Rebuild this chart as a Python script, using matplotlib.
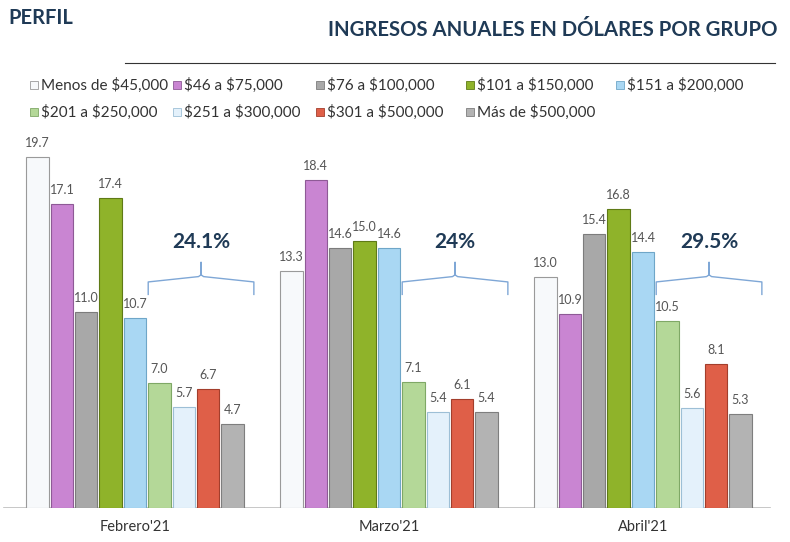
import matplotlib.pyplot as plt
from matplotlib.patches import Rectangle
import numpy as np

plt.rcParams['font.family'] = ['Lato', 'DejaVu Sans']

# data
months = ["Febrero'21", "Marzo'21", "Abril'21"]
groups = ['Menos de $45,000', '$46 a $75,000', '$76 a $100,000',
          '$101 a $150,000', '$151 a $200,000', '$201 a $250,000',
          '$251 a $300,000', '$301 a $500,000', 'Más de $500,000']
values = [
    [19.7, 13.3, 13.0],
    [17.1, 18.4, 10.9],
    [11.0, 14.6, 15.4],
    [17.4, 15.0, 16.8],
    [10.7, 14.6, 14.4],
    [7.0, 7.1, 10.5],
    [5.7, 5.4, 5.6],
    [6.7, 6.1, 8.1],
    [4.7, 5.4, 5.3],
]
upper_share = ['24.1%', '24%', '29.5%']

colors = ['#f7f9fb', '#c985d2', '#a8a8a8', '#8fb32a', '#a9d7f3',
          '#b4d898', '#e4f1fb', '#df5f48', '#b3b3b3']
edges = ['#9a9a9a', '#8e5a96', '#7c7c7c', '#5f7a16', '#6fa6c8',
         '#7fa866', '#9dbfd6', '#a33e2c', '#7e7e7e']

navy = '#1f3a56'

fig = plt.figure(figsize=(7.9, 5.42), dpi=100)
ax = fig.add_axes([0, 1 - 508 / 542, 1, (508 - 130) / 542])

step = 0.096
width = 0.088
x = np.arange(len(months))

for i, name in enumerate(groups):
    pos = x + (i - 4) * step
    bars = ax.bar(pos, values[i], width, color=colors[i], edgecolor=edges[i],
                  linewidth=0.8, zorder=3)
    for b, v in zip(bars, values[i]):
        ax.text(b.get_x() + b.get_width() / 2, v + 0.45, f'{v:.1f}',
                ha='center', va='bottom', fontsize=9, color='#555555', zorder=4)

# braces over the top four groups
for k, lab in enumerate(upper_share):
    left = x[k] + 1 * step - width / 2
    right = x[k] + 4 * step + width / 2 + 0.04
    mid = (left + right) / 2
    y0, y1, y2 = 12.0, 13.0, 13.8
    ax.plot([left, left, mid - 0.01, mid, mid, mid, mid + 0.01, right, right],
            [y0, y1 - 0.3, y1, y1 + 0.1, y2, y1 + 0.1, y1, y1 - 0.3, y0],
            color='#7fa7d6', linewidth=1, zorder=5)
    ax.text(mid, y2 + 0.6, lab, ha='center', va='bottom', fontsize=15,
            fontweight='bold', color=navy, zorder=5)

ax.axhline(0, xmin=0.005, xmax=0.975, color='#bdbdbd', linewidth=1.2, zorder=2)
ax.set_xlim(-135 / 254, (790 - 135) / 254)
ax.set_ylim(0, (508 - 130) / 17.8)
ax.axis('off')

for k, m in enumerate(months):
    ax.text(x[k], -1.05, m, ha='center', va='center', fontsize=10.5, color='#333333')

# header
fig.text(8 / 790, 1 - 18 / 542, 'PERFIL', fontsize=14.5, fontweight='bold',
         color=navy, va='center', ha='left')
fig.text(778 / 790, 1 - 30 / 542, 'INGRESOS ANUALES EN DÓLARES POR GRUPO',
         fontsize=14.6, fontweight='bold', color=navy, va='center', ha='right')
fig.add_artist(plt.Line2D([125 / 790, 775 / 790], [1 - 63 / 542, 1 - 63 / 542],
                          color='#333333', linewidth=0.8))

# legend laid out in five columns, two rows
col_x = [30, 173, 316, 466, 616]
row_y = [85, 112]
for i, name in enumerate(groups):
    col, row = (i, 0) if i < 5 else (i - 5, 1)
    px, py = col_x[col], row_y[row]
    fig.add_artist(Rectangle((px / 790, 1 - (py + 4) / 542), 8 / 790, 8 / 542,
                             facecolor=colors[i], edgecolor=edges[i], linewidth=0.6))
    fig.text((px + 11) / 790, 1 - py / 542, name, fontsize=11, color='#333333',
             va='center', ha='left', parse_math=False)

fig.savefig('out.png', dpi=100)
